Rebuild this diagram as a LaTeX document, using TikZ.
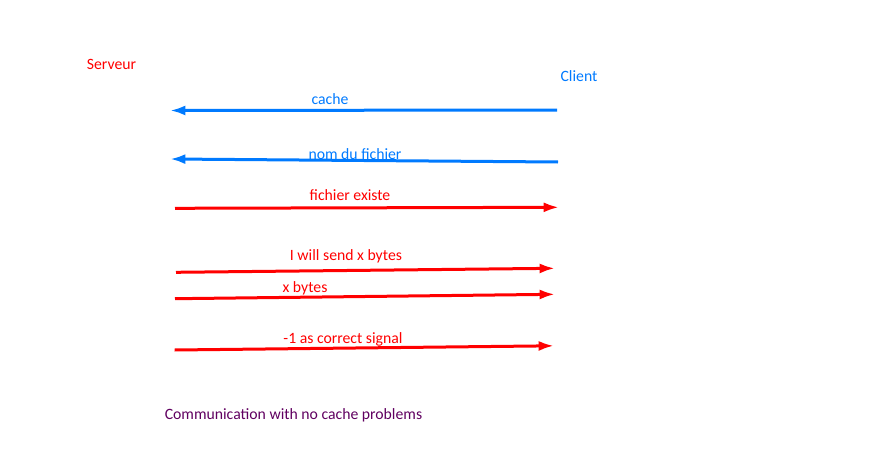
\documentclass[tikz,border=0pt]{standalone}
\usepackage{fontspec}
\setmainfont{Carlito}
\usepackage{xcolor}
\usepackage{tikz}
\usetikzlibrary{arrows.meta}

\definecolor{srvred}{RGB}{255,0,0}
\definecolor{clblue}{RGB}{0,122,255}
\definecolor{notepurple}{RGB}{96,0,96}

\tikzset{
  msg/.style={line width=2.25pt, -{Latex[length=11.5pt,width=7.5pt]}},
  lbl/.style={inner sep=0.75pt, font=\fontsize{11.8}{14}\selectfont}
}

\begin{document}
\begin{tikzpicture}[x=0.75pt,y=0.75pt,yscale=-1,xscale=1]
\useasboundingbox (0,0) rectangle (879,471);

% Text Node
\draw (111.5,64) node (srv) [lbl, text=srvred] {Serveur};
% Text Node
\draw (579,76) node (cli) [lbl, text=clblue] {Client};

% end points of the messages
\coordinate (c1) at (557,110);   \coordinate (s1) at (170,110.5);
\coordinate (c2) at (558,162);   \coordinate (s2) at (170,159);
\coordinate (s3) at (175,208.3); \coordinate (c3) at (559,207.3);
\coordinate (s4) at (176,272.3); \coordinate (c4) at (555,268.3);
\coordinate (s5) at (175,298.7); \coordinate (c5) at (555,294.3);
\coordinate (s6) at (174.7,350); \coordinate (c6) at (554,345.8);

%Straight Lines
\draw [msg, clblue] (c1) -- (s1) ;
%Straight Lines
\draw [msg, clblue] (c2) -- (s2) ;
%Straight Lines
\draw [msg, srvred] (s3) -- (c3) ;
%Straight Lines
\draw [msg, srvred] (s4) -- (c4) ;
%Straight Lines
\draw [msg, srvred] (s5) -- (c5) ;
%Straight Lines
\draw [msg, srvred] (s6) -- (c6) ;

% Text Node
\draw (330,99) node (m1) [lbl, text=clblue] {cache};
% Text Node
\draw (355,154) node (m2) [lbl, text=clblue] {nom du fichier};
% Text Node
\draw (350,195) node (m3) [lbl, text=srvred] {fichier existe};
% Text Node
\draw (346,256) node (m4) [lbl, text=srvred] {I will send x bytes};
% Text Node
\draw (305,288.5) node (m5) [lbl, text=srvred] {x bytes};
% Text Node
\draw (343,339) node (m6) [lbl, text=srvred] {-1 as correct signal};

% Text Node
\draw (293.5,415) node (note) [lbl, text=notepurple] {Communication with no cache problems};
\end{tikzpicture}
\end{document}
